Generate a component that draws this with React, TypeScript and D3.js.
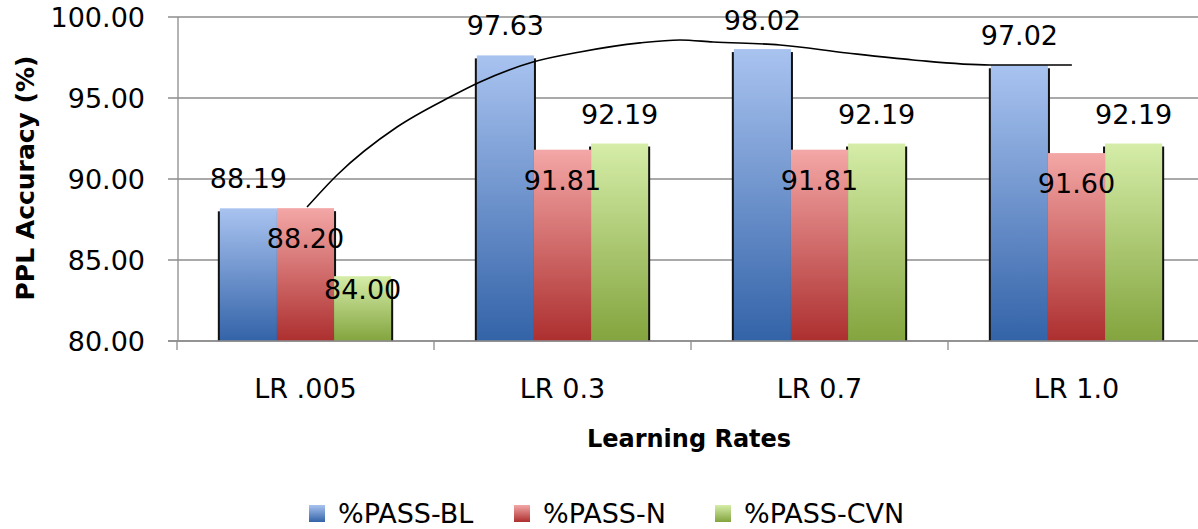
import React from "react";
import * as d3 from "d3";

// data
const categories = ["LR .005", "LR 0.3", "LR 0.7", "LR 1.0"];
const seriesNames = ["%PASS-BL", "%PASS-N", "%PASS-CVN"];
const passBL = [88.19, 97.63, 98.02, 97.02];
const passN = [88.2, 91.81, 91.81, 91.6];
const passCVN = [84.0, 92.19, 92.19, 92.19];
const yTicks = [80, 85, 90, 95, 100];
// hand drawn curve over the bars: [category position, value]
const curvePos = [0.506, 0.623, 0.856, 1.062, 1.179, 1.385, 1.568, 1.802, 1.957, 2.086, 2.346, 2.607, 2.864, 3.163, 3.482];
const curveVal = [88.27, 90.25, 93.21, 95.06, 95.99, 97.22, 97.84, 98.4, 98.58, 98.46, 98.27, 97.78, 97.35, 97.04, 97.04];

const W = 1198;
const H = 529;
const FONT = "DejaVu Sans";

const gradients = [
    { id: "gBlue", top: "#a9c3f0", bottom: "#3363a8" },
    { id: "gRed", top: "#f3a7a6", bottom: "#ad2f2f" },
    { id: "gGreen", top: "#d5eda8", bottom: "#83a43e" },
];

export default function App() {
    React.useEffect(() => {
        document.body.style.margin = "0";
    }, []);

    const series = [passBL, passN, passCVN];

    const x = d3.scaleBand<string>().domain(categories).range([177, 1205]).padding(0);
    const bw = x.bandwidth();
    const barW = bw / 4.5;
    const xs = d3.scaleBand<string>()
        .domain(seriesNames)
        .range([(bw - 3 * barW) / 2, (bw + 3 * barW) / 2]);
    const y = d3.scaleLinear().domain([80, 100]).range([341, 17]);
    const xPos = d3.scaleLinear().domain([0, categories.length]).range([177, 1205]);

    const curve = d3.line<number>()
        .x((_, i) => xPos(curvePos[i]))
        .y(d => y(d))
        .curve(d3.curveMonotoneX)(curveVal);

    const legendX = [309, 514, 715];

    return (
        <svg width={W} height={H} style={{ display: "block", background: "#fff" }}>
            <defs>
                {gradients.map(g => (
                    <linearGradient key={g.id} id={g.id} x1="0" y1="0" x2="0" y2="1">
                        <stop offset="0%" stopColor={g.top} />
                        <stop offset="100%" stopColor={g.bottom} />
                    </linearGradient>
                ))}
            </defs>

            {/* gridlines */}
            {yTicks.map(t => (
                <g key={t}>
                    <line x1={168} x2={W} y1={y(t)} y2={y(t)} stroke="#8c8c8c" strokeWidth={1.3} />
                    <text x={145} y={y(t)} dy="0.36em" textAnchor="end" fontFamily={FONT} fontSize={27}>
                        {t.toFixed(2)}
                    </text>
                </g>
            ))}
            <line x1={178} x2={178} y1={y(100)} y2={y(80)} stroke="#8c8c8c" strokeWidth={1.3} />
            {d3.range(categories.length + 1).map(i => (
                <line key={i} x1={xPos(i)} x2={xPos(i)} y1={y(80)} y2={y(80) + 9} stroke="#8c8c8c" strokeWidth={1.3} />
            ))}

            {/* bars */}
            {categories.map((c, ci) => (
                <g key={c} transform={`translate(${x(c)},0)`}>
                    {series.map((s, si) => {
                        const bx = xs(seriesNames[si])!;
                        const top = y(s[ci]);
                        return (
                            <rect key={"s" + si} x={bx - 2} y={top + 3} width={barW + 4} height={y(80) - top - 3}
                                fill="#111" />
                        );
                    })}
                    {series.map((s, si) => {
                        const bx = xs(seriesNames[si])!;
                        const top = y(s[ci]);
                        return (
                            <rect key={si} x={bx} y={top} width={barW} height={y(80) - top}
                                fill={`url(#${gradients[si].id})`} />
                        );
                    })}
                </g>
            ))}
            <line x1={168} x2={W} y1={y(80)} y2={y(80)} stroke="#8c8c8c" strokeWidth={1.3} />

            {/* curve */}
            <path d={curve ?? ""} fill="none" stroke="#000" strokeWidth={1.6} />

            {/* data labels */}
            {categories.map((c, ci) => (
                <g key={"l" + c}>
                    {series.map((s, si) => {
                        const v = s[ci];
                        const cx = x(c)! + xs(seriesNames[si])! + barW / 2;
                        const above = si === 0 || v > series[si - 1][ci] + 0.05;
                        const top = y(v);
                        const by = above ? Math.max(top - 20, 30) : top + (si === 1 ? 40 : 23);
                        return (
                            <text key={si} x={cx} y={by} textAnchor="middle" fontFamily={FONT} fontSize={27}>
                                {v.toFixed(2)}
                            </text>
                        );
                    })}
                </g>
            ))}

            {/* category labels */}
            {categories.map(c => (
                <text key={"c" + c} x={x(c)! + bw / 2} y={398} textAnchor="middle" fontFamily={FONT} fontSize={27}>
                    {c}
                </text>
            ))}

            {/* axis titles */}
            <text x={689} y={447} textAnchor="middle" fontFamily={FONT} fontWeight="bold" fontSize={24}>
                Learning Rates
            </text>
            <text transform="translate(34,178) rotate(-90)" textAnchor="middle" fontFamily={FONT} fontWeight="bold" fontSize={25}>
                PPL Accuracy (%)
            </text>

            {/* legend */}
            {seriesNames.map((n, i) => (
                <g key={n} transform={`translate(${legendX[i]},505)`}>
                    <rect x={0} y={0} width={16} height={17} fill={`url(#${gradients[i].id})`} />
                    <text x={29} y={18} fontFamily={FONT} fontSize={27}>{n}</text>
                </g>
            ))}
        </svg>
    );
}
